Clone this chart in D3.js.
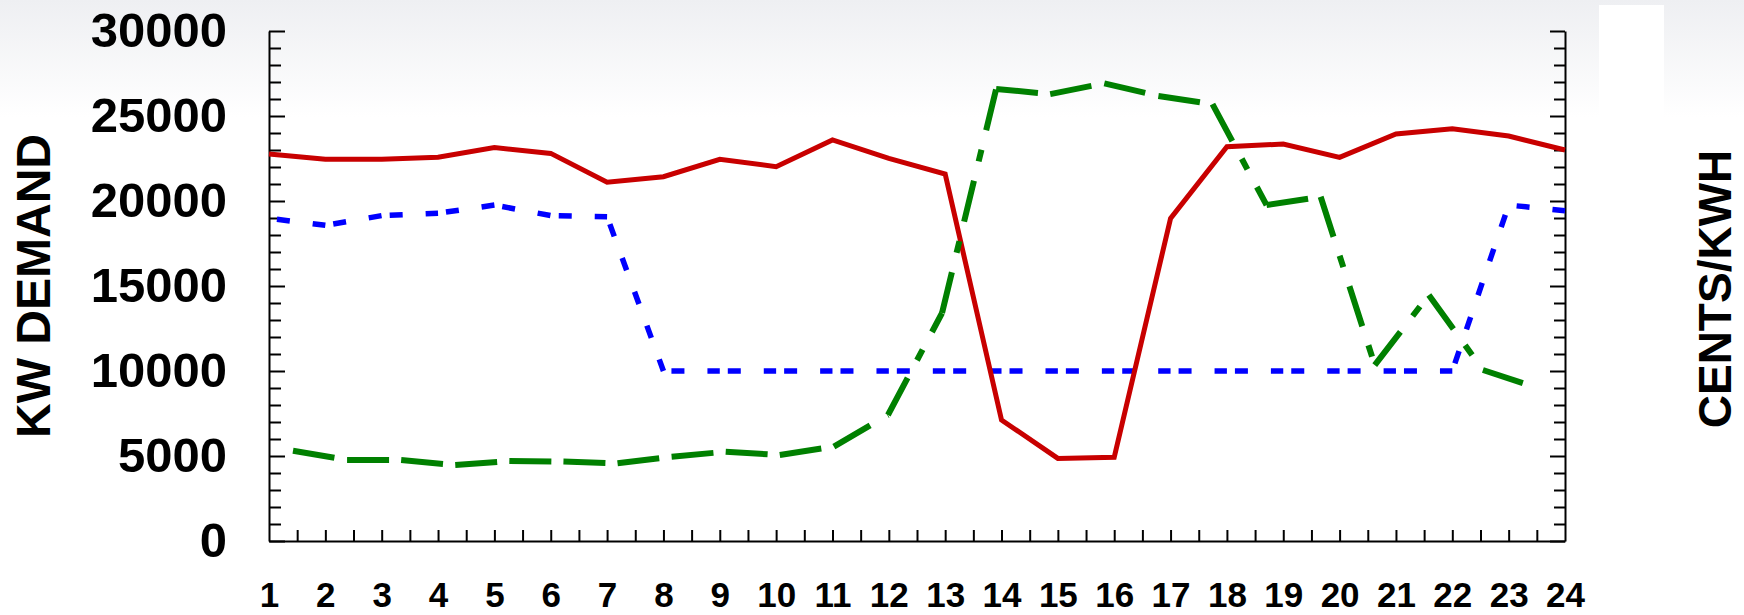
<!DOCTYPE html>
<html>
<head>
<meta charset="utf-8">
<script src="https://cdn.jsdelivr.net/npm/d3@7"></script>
<style>
  html, body { margin: 0; padding: 0; background: #fff; }
  svg { display: block; }
  text { font-family: Arial, "Liberation Sans", sans-serif; font-weight: bold; fill: #000; }
</style>
</head>
<body>
<svg id="chart" width="1744" height="615"></svg>
<script>
// Hour of day (x categories) and their labels
const hours = [1, 2, 3, 4, 5, 6, 7, 8, 9, 10, 11, 12, 13, 14, 15, 16, 17, 18, 19, 20, 21, 22, 23, 24];
const hourLabels = ["1", "2", "3", "4", "5", "6", "7", "8", "9", "10", "11", "12",
                    "13", "14", "15", "16", "17", "18", "19", "20", "21", "22", "23", "24"];

// Hourly KW demand (solid red)
const kwDemand = [22770, 22450, 22450, 22570, 23140, 22800, 21100, 21430, 22450, 22020, 23590, 22510,
                  21590, 7120, 4860, 4920, 18980, 23190, 23350, 22570, 23940, 24250, 23820, 23000];

// Time-of-use rate (dotted blue), drawn against the same vertical ticks
const touRate = [18980, 18570, 19140, 19280, 19760, 19140, 19080, 10000, 10000, 10000, 10000, 10000,
                 10000, 10000, 10000, 10000, 10000, 10000, 10000, 10000, 10000, 10000, 19760, 19430];

// Hourly market rate (long-dash-dot green), drawn on its own slightly inset hour axis
const marketRate = [5310, 4770, 4760, 4470, 4700, 4670, 4570, 4960, 5250, 5060, 5550, 7410,
                    13410, 26590, 26290, 26920, 26180, 25700, 19760, 20250, 10350, 14470, 10060, 9020];

// Vertical axis ticks
const yMajorTicks = [0, 5000, 10000, 15000, 20000, 25000, 30000];
const yMinorTicks = [1000, 2000, 3000, 4000, 6000, 7000, 8000, 9000, 11000, 12000, 13000, 14000,
                     16000, 17000, 18000, 19000, 21000, 22000, 23000, 24000, 26000, 27000, 28000, 29000];

const W = 1744, H = 615;
const plot = { left: 269, right: 1565, top: 31, bottom: 541 };

const svg = d3.select("#chart");

// Background: pale grey fading to white near the top
const defs = svg.append("defs");
const grad = defs.append("linearGradient")
  .attr("id", "bgFade").attr("x1", 0).attr("y1", 0).attr("x2", 0).attr("y2", 1);
grad.append("stop").attr("offset", "0").attr("stop-color", "#eeeff2");
grad.append("stop").attr("offset", "0.19").attr("stop-color", "#ffffff");
grad.append("stop").attr("offset", "1").attr("stop-color", "#ffffff");
svg.append("rect").attr("width", W).attr("height", H).attr("fill", "url(#bgFade)");

// Blank white panel in the top-right corner
svg.append("rect").attr("x", 1599).attr("y", 5).attr("width", 65).attr("height", 150).attr("fill", "#fff");

const x = d3.scaleLinear().domain([1, 24]).range([plot.left, plot.right]);
const xMarket = d3.scaleLinear().domain([1, 24]).range([plot.left + 24, plot.right - 28]);
const y = d3.scaleLinear().domain([0, 30000]).range([plot.bottom, plot.top]);

function styleAxis(g, fontSize) {
  g.attr("font-size", null).attr("font-family", null);
  g.selectAll(".domain").attr("stroke", "#000").attr("stroke-width", 2);
  g.selectAll(".tick line").attr("stroke", "#000").attr("stroke-width", 2);
  g.selectAll(".tick text").style("font-size", fontSize + "px");
}

// Bottom axis: half-hour ticks pointing up
const halfHourTicks = d3.range(1.5, 24, 0.5);
svg.append("g")
  .attr("transform", `translate(0,${plot.bottom})`)
  .call(d3.axisBottom(x).tickValues(halfHourTicks).tickSizeInner(-11).tickSizeOuter(0).tickFormat(""))
  .call(g => styleAxis(g, 35));

// Hour labels
svg.append("g")
  .attr("transform", `translate(0,${plot.bottom})`)
  .call(d3.axisBottom(x).tickValues(hours).tickSize(0).tickPadding(41)
        .tickFormat(h => hourLabels[h - 1]))
  .call(g => { styleAxis(g, 35); g.select(".domain").remove(); });

// Left axis: labelled majors and minor ticks, all pointing inward
svg.append("g")
  .attr("transform", `translate(${plot.left},0)`)
  .call(d3.axisLeft(y).tickValues(yMinorTicks).tickSizeInner(-12).tickSizeOuter(0).tickFormat(""))
  .call(g => { styleAxis(g, 49); g.select(".domain").remove(); });
svg.append("g")
  .attr("transform", `translate(${plot.left},0)`)
  .call(d3.axisLeft(y).tickValues(yMajorTicks).tickSizeInner(-16).tickSizeOuter(0).tickPadding(42)
        .tickFormat(d3.format("d")))
  .call(g => styleAxis(g, 49));

// Right axis: ticks only
svg.append("g")
  .attr("transform", `translate(${plot.right},0)`)
  .call(d3.axisRight(y).tickValues(yMinorTicks).tickSizeInner(-11).tickSizeOuter(0).tickFormat(""))
  .call(g => { styleAxis(g, 49); g.select(".domain").remove(); });
svg.append("g")
  .attr("transform", `translate(${plot.right},0)`)
  .call(d3.axisRight(y).tickValues(yMajorTicks).tickSizeInner(-15).tickSizeOuter(0).tickFormat(""))
  .call(g => styleAxis(g, 49));

// Axis titles
svg.append("text")
  .attr("transform", `translate(50,${(plot.top + plot.bottom) / 2}) rotate(-90)`)
  .attr("text-anchor", "middle")
  .style("font-size", "48px")
  .text("KW DEMAND");
svg.append("text")
  .attr("transform", `translate(1731,289) rotate(-90)`)
  .attr("text-anchor", "middle")
  .style("font-size", "46px")
  .text("CENTS/KWH");

// Each hourly segment is stroked on its own so the dash pattern restarts at every point
function segmentPairs(values) {
  return values.slice(0, -1).map((v, i) => [[hours[i], v], [hours[i + 1], values[i + 1]]]);
}

const seg = (xs) => d3.line().x(d => xs(d[0])).y(d => y(d[1]));

// Time-of-use rate: short dashes in pairs
svg.append("g")
  .selectAll("path")
  .data(segmentPairs(touRate))
  .join("path")
  .attr("d", seg(x))
  .attr("fill", "none")
  .attr("stroke", "#0000ff")
  .attr("stroke-width", 5.5)
  .attr("stroke-dasharray", "13,23")
  .attr("stroke-dashoffset", 28);

// Demand: solid line
svg.append("path")
  .datum(hours.map((h, i) => [h, kwDemand[i]]))
  .attr("d", seg(x))
  .attr("fill", "none")
  .attr("stroke", "#c80000")
  .attr("stroke-width", 5)
  .attr("stroke-linejoin", "miter");

// Market rate: long dash - gap - short dash
svg.append("g")
  .selectAll("path")
  .data(segmentPairs(marketRate))
  .join("path")
  .attr("d", seg(xMarket))
  .attr("fill", "none")
  .attr("stroke", "#008000")
  .attr("stroke-width", 6)
  .attr("stroke-dasharray", "42,20,12,20");
</script>
</body>
</html>
